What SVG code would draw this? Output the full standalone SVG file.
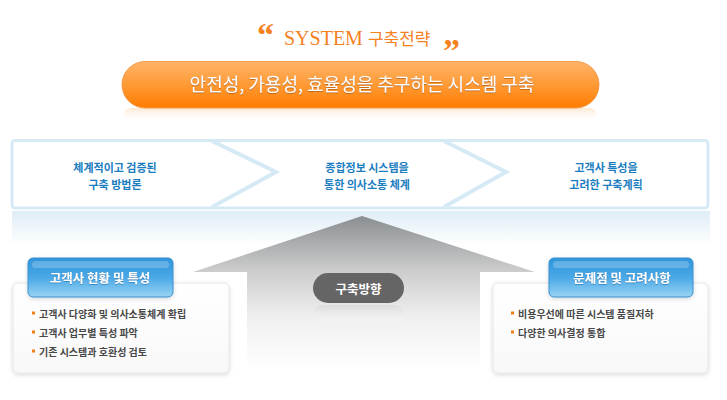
<svg xmlns="http://www.w3.org/2000/svg" width="727" height="400" viewBox="0 0 727 400">
<defs>
<style>
.kr{font-family:"Noto Sans CJK KR","Noto Sans",sans-serif}
.step{font-family:"Noto Sans CJK KR",sans-serif;font-size:11px;font-weight:bold;fill:#1a7dbf;text-anchor:middle}
.bul{font-family:"Noto Sans CJK KR",sans-serif;font-size:10px;font-weight:bold;fill:#474747}
.hdr{font-family:"Noto Sans CJK KR",sans-serif;font-size:12.5px;font-weight:bold;fill:#ffffff;text-anchor:middle}
.mk{fill:#f57f17}
.chev{fill:none;stroke:#d6eaf5;stroke-width:4}
</style>
<linearGradient id="gOr" x1="0" y1="0" x2="0" y2="1">
<stop offset="0" stop-color="#ffb468"/>
<stop offset="0.5" stop-color="#ff9a35"/>
<stop offset="1" stop-color="#ff7c00"/>
</linearGradient>
<linearGradient id="gOrRef" x1="0" y1="0" x2="0" y2="1">
<stop offset="0" stop-color="#fde2c6" stop-opacity="0.8"/>
<stop offset="1" stop-color="#ffffff" stop-opacity="0"/>
</linearGradient>
<linearGradient id="gBand" x1="0" y1="0" x2="0" y2="1">
<stop offset="0" stop-color="#deedf6"/>
<stop offset="1" stop-color="#ffffff"/>
</linearGradient>
<linearGradient id="gArrow" gradientUnits="userSpaceOnUse" x1="0" y1="216" x2="0" y2="370">
<stop offset="0" stop-color="#8b8f91"/>
<stop offset="0.36" stop-color="#cdcdcd"/>
<stop offset="0.65" stop-color="#efefef"/>
<stop offset="1" stop-color="#ffffff"/>
</linearGradient>
<linearGradient id="gBlue" x1="0" y1="0" x2="0" y2="1">
<stop offset="0" stop-color="#2f95db"/>
<stop offset="0.5" stop-color="#4aa8e6"/>
<stop offset="1" stop-color="#98d3f4"/>
</linearGradient>
<linearGradient id="gPillRef" x1="0" y1="0" x2="0" y2="1">
<stop offset="0" stop-color="#d8d8d8" stop-opacity="0.8"/>
<stop offset="1" stop-color="#ffffff" stop-opacity="0"/>
</linearGradient>
<linearGradient id="gCard" x1="0" y1="0" x2="0" y2="1">
<stop offset="0" stop-color="#ffffff"/>
<stop offset="1" stop-color="#f8f8f8"/>
</linearGradient>
<filter id="sh" x="-10%" y="-10%" width="120%" height="130%">
<feDropShadow dx="0" dy="1.5" stdDeviation="2" flood-color="#000" flood-opacity="0.15"/>
</filter>
<filter id="tsh" x="-5%" y="-20%" width="110%" height="140%">
<feDropShadow dx="0" dy="0.6" stdDeviation="0.5" flood-color="#8a3c00" flood-opacity="0.8"/>
</filter>
<filter id="bsh" x="-5%" y="-20%" width="110%" height="140%">
<feDropShadow dx="0" dy="0.6" stdDeviation="0.5" flood-color="#1a5f99" flood-opacity="0.8"/>
</filter>
</defs>
<rect width="727" height="400" fill="#ffffff"/>

<g id="title">
<text x="257" y="46" font-family="Liberation Serif,serif" font-size="34" font-weight="bold" fill="#f5821f">“</text>
<text x="284" y="45" font-family="Liberation Serif,serif" font-size="20" fill="#f5821f">SYSTEM <tspan font-family="Noto Sans CJK KR,sans-serif" font-size="17">구축전략</tspan></text>
<text x="443" y="62" font-family="Liberation Serif,serif" font-size="34" font-weight="bold" fill="#f5821f">”</text>
</g>

<g id="goal">
<rect x="124" y="108" width="473" height="14" rx="7" fill="url(#gOrRef)"/>
<rect x="122" y="61.5" width="477" height="46.5" rx="23.25" fill="url(#gOr)" stroke="#f59a48" stroke-width="1"/>
<text x="362" y="91" class="kr" font-size="18" fill="#ffffff" text-anchor="middle" filter="url(#tsh)">안전성, 가용성, 효율성을 추구하는 시스템 구축</text>
</g>

<g id="band">
<rect x="12" y="211" width="698" height="34" fill="url(#gBand)"/>
</g>

<g id="direction-arrow">
<polygon points="362,216 535,272 480,272 480,400 247,400 247,272 193,272" fill="url(#gArrow)"/>
</g>

<g id="steps">
<rect x="12" y="140.5" width="696" height="67.5" rx="3" fill="#ffffff" stroke="#d6eaf5" stroke-width="3"/>
<polyline class="chev" points="212,141 276,172 212,207"/>
<polyline class="chev" points="444,141 506,172 444,207"/>
<g id="step1">
<text class="step" x="115" y="172">체계적이고 검증된</text>
<text class="step" x="115" y="189">구축 방법론</text>
</g>
<g id="step2">
<text class="step" x="367" y="172">종합정보 시스템을</text>
<text class="step" x="367" y="189">통한 의사소통 체계</text>
</g>
<g id="step3">
<text class="step" x="606" y="172">고객사 특성을</text>
<text class="step" x="606" y="189">고려한 구축계획</text>
</g>
</g>

<g id="direction-label">
<rect x="313" y="305" width="91" height="20" rx="10" fill="url(#gPillRef)"/>
<rect x="313" y="273" width="91" height="30" rx="15" fill="#656565"/>
<text x="358.5" y="293.5" class="kr" font-size="12.5" font-weight="bold" fill="#ffffff" text-anchor="middle">구축방향</text>
</g>

<g id="card-left">
<rect x="13" y="283" width="216" height="90" rx="5" fill="url(#gCard)" stroke="#e6e6e6" stroke-width="1" filter="url(#sh)"/>
<rect x="28" y="258" width="145" height="39" rx="5" fill="url(#gBlue)" stroke="#3a8fcf" stroke-width="1" filter="url(#sh)"/>
<rect x="32" y="261" width="137" height="7" rx="3.5" fill="#ffffff" fill-opacity="0.22"/>
<text class="hdr" x="100" y="283" filter="url(#bsh)">고객사 현황 및 특성</text>
<rect class="mk" x="32" y="311.5" width="3" height="3"/>
<text class="bul" x="39" y="318">고객사 다양화 및 의사소통체계 확립</text>
<rect class="mk" x="32" y="330.5" width="3" height="3"/>
<text class="bul" x="39" y="337">고객사 업무별 특성 파악</text>
<rect class="mk" x="32" y="349.5" width="3" height="3"/>
<text class="bul" x="39" y="356">기존 시스템과 호환성 검토</text>
</g>

<g id="card-right">
<rect x="493" y="283" width="215" height="90" rx="5" fill="url(#gCard)" stroke="#e6e6e6" stroke-width="1" filter="url(#sh)"/>
<rect x="549" y="258" width="144" height="39" rx="5" fill="url(#gBlue)" stroke="#3a8fcf" stroke-width="1" filter="url(#sh)"/>
<rect x="553" y="261" width="136" height="7" rx="3.5" fill="#ffffff" fill-opacity="0.22"/>
<text class="hdr" x="622" y="283" filter="url(#bsh)">문제점 및 고려사항</text>
<rect class="mk" x="511" y="311.5" width="3" height="3"/>
<text class="bul" x="518" y="318">비용우선에 따른 시스템 품질저하</text>
<rect class="mk" x="511" y="330.5" width="3" height="3"/>
<text class="bul" x="518" y="337">다양한 의사결정 통합</text>
</g>
</svg>
